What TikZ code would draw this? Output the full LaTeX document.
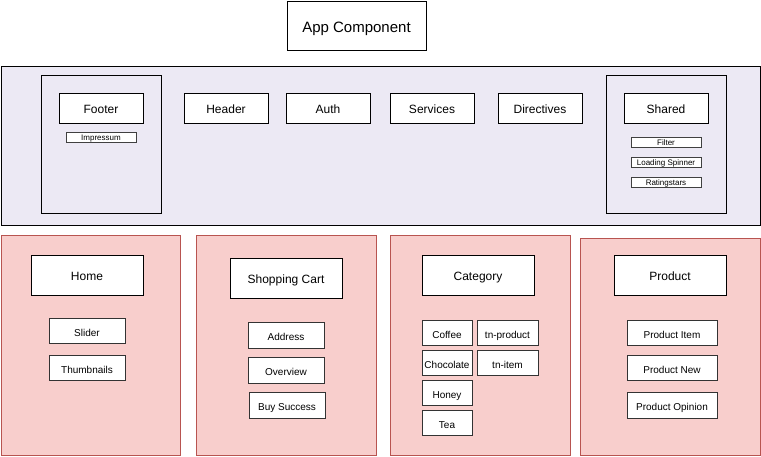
\documentclass[tikz,border=0pt]{standalone}
\usepackage{fontspec}
\setmainfont{Liberation Sans}
\definecolor{lav}{RGB}{236,233,244}
\definecolor{pinkf}{RGB}{248,206,204}
\definecolor{pinkd}{RGB}{184,84,80}
\newcommand{\bx}[7][]{\node[#1, minimum width={(#5-#3)*1pt}, minimum height={(#6-#4)*1pt}] (#2) at ({(#3+#5)/2},{(#4+#6)/2}) {#7};}
\tikzset{
  base/.style={draw=black, line width=1pt, inner sep=0pt, outer sep=0pt, rectangle, fill=white, text depth=0pt},
  big/.style={base, text height=11.5pt, font=\fontsize{12}{14}\selectfont},
  appst/.style={base, text height=14.4pt, font=\fontsize{15}{18}\selectfont},
  mid/.style={base, draw=black!80, text height=11pt, font=\fontsize{10}{12}\selectfont},
  tiny/.style={base, draw=black!75, text height=6.2pt, font=\fontsize{8}{9}\selectfont},
  lavpanel/.style={draw=black, line width=1pt, fill=lav, inner sep=0pt},
  cont/.style={draw=black, line width=1pt, fill=lav, inner sep=0pt},
  pinkpanel/.style={draw=pinkd, line width=1pt, fill=pinkf, inner sep=0pt},
}
\begin{document}
\begin{tikzpicture}[x=1pt,y=-1pt]
\useasboundingbox (0,0) rectangle (761,456);
\bx[appst]{app}{287}{1}{426}{50}{App Component}
% top panel
\bx[lavpanel]{core}{1}{66}{760}{225}{}
\bx[cont]{footc}{41}{75}{161}{213}{}
\bx[big]{footer}{59}{93}{143}{123}{Footer}
\bx[tiny]{impressum}{66}{132}{136}{142}{Impressum}
\bx[big]{header}{184}{93}{268}{123}{Header}
\bx[big]{auth}{286}{93}{370}{123}{Auth}
\bx[big]{services}{390}{93}{474}{123}{Services}
\bx[big]{directives}{498}{93}{582}{123}{Directives}
\bx[cont]{sharedc}{606}{75}{726}{213}{}
\bx[big]{shared}{624}{93}{708}{123}{Shared}
\bx[tiny]{filter}{631}{137}{701}{147}{Filter}
\bx[tiny]{spinner}{631}{157}{701}{167}{Loading Spinner}
\bx[tiny]{rating}{631}{177}{701}{187}{Ratingstars}
% bottom panels
\bx[pinkpanel]{homep}{1}{235}{180}{455}{}
\bx[pinkpanel]{cartp}{196}{235}{376}{455}{}
\bx[pinkpanel]{catp}{390}{235}{570}{455}{}
\bx[pinkpanel]{prodp}{580}{238}{760}{455}{}
\bx[big]{home}{31}{255}{143}{295}{Home}
\bx[mid]{slider}{49}{318}{125}{343}{Slider}
\bx[mid]{thumbs}{49}{355}{125}{380}{Thumbnails}
\bx[big]{cart}{230}{258}{342}{298}{Shopping Cart}
\bx[mid]{address}{248}{322}{324}{348}{Address}
\bx[mid]{overview}{248}{357}{324}{383}{Overview}
\bx[mid]{buy}{249}{392}{325}{418}{Buy Success}
\bx[big]{category}{422}{255}{534}{295}{Category}
\bx[mid]{coffee}{422}{320}{472}{345}{Coffee}
\bx[mid]{tnproduct}{477}{320}{538}{345}{tn-product}
\bx[mid]{chocolate}{422}{350}{472}{375}{Chocolate}
\bx[mid]{tnitem}{477}{350}{538}{375}{tn-item}
\bx[mid]{honey}{422}{380}{472}{405}{Honey}
\bx[mid]{tea}{422}{410}{472}{435}{Tea}
\bx[big]{product}{614}{255}{726}{295}{Product}
\bx[mid]{pitem}{627}{320}{717}{345}{Product Item}
\bx[mid]{pnew}{627}{355}{717}{380}{Product New}
\bx[mid]{popinion}{627}{392}{717}{418}{Product Opinion}
\end{tikzpicture}
\end{document}
